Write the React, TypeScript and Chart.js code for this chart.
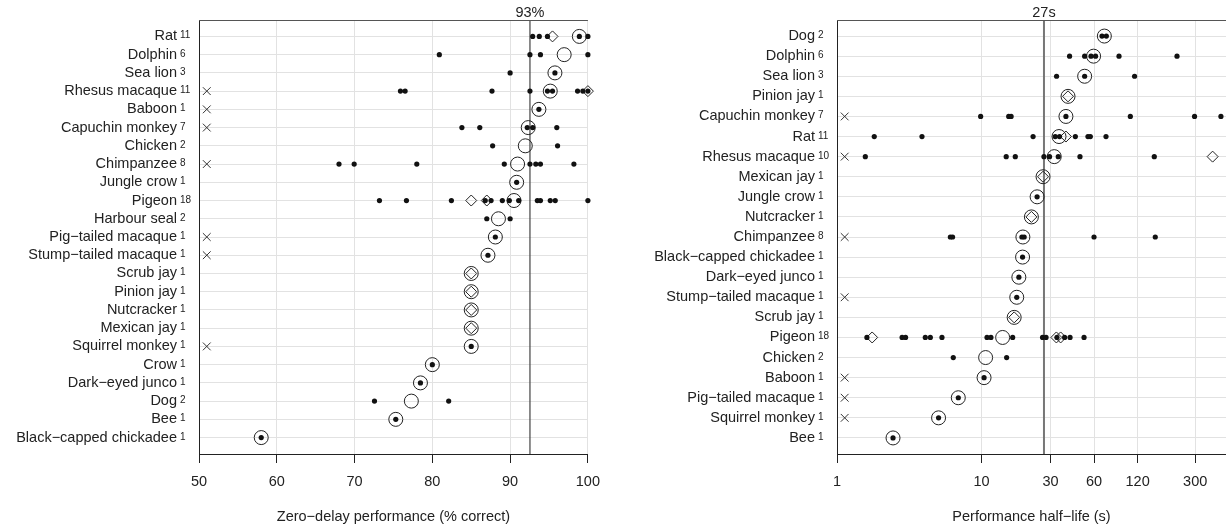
import React, { useEffect, useRef } from 'react';
import { Chart, registerables } from 'chart.js';

Chart.register(...registerables);

const FONT = '"Liberation Sans", Arial, Helvetica, sans-serif';

// ---------------- Left panel: zero-delay performance ----------------
const LEFT_SPECIES = [
  'Rat', 'Dolphin', 'Sea lion', 'Rhesus macaque', 'Baboon', 'Capuchin monkey', 'Chicken',
  'Chimpanzee', 'Jungle crow', 'Pigeon', 'Harbour seal', 'Pig\u2212tailed macaque',
  'Stump\u2212tailed macaque', 'Scrub jay', 'Pinion jay', 'Nutcracker', 'Mexican jay',
  'Squirrel monkey', 'Crow', 'Dark\u2212eyed junco', 'Dog', 'Bee', 'Black\u2212capped chickadee',
];
const LEFT_COUNTS = [11, 6, 3, 11, 1, 7, 2, 8, 1, 18, 2, 1, 1, 1, 1, 1, 1, 1, 1, 1, 2, 1, 1];
const LEFT_STUDIES: number[][] = [
  [92.9, 93.75, 94.8, 98.9, 100],
  [80.9, 92.55, 93.9, 100],
  [90.0, 95.76],
  [75.9, 76.5, 87.67, 92.55, 94.8, 95.45, 98.67, 99.35, 100],
  [93.7],
  [83.8, 86.1, 92.2, 92.9, 96.0],
  [87.75, 96.1],
  [68.0, 69.95, 78.0, 89.25, 92.55, 93.3, 93.9, 98.2],
  [90.84],
  [73.2, 76.67, 82.45, 86.8, 87.55, 89.0, 89.9, 91.1, 93.5, 93.9, 95.16, 95.8, 100],
  [87.0, 90.0],
  [88.1],
  [87.15],
  [],
  [],
  [],
  [],
  [85],
  [80],
  [78.47],
  [72.56, 82.1],
  [75.3],
  [58],
];
const LEFT_MEDIANS = [98.9, 96.95, 95.76, 95.16, 93.7, 92.33, 91.95, 90.96, 90.84, 90.5, 88.5,
  88.1, 87.15, 85, 85, 85, 85, 85, 80, 78.47, 77.3, 75.3, 58];
const LEFT_DIAMONDS: number[][] = [
  [95.45], [], [], [100], [], [], [], [], [], [85.0, 87.0], [], [], [],
  [85], [85], [85], [85], [], [], [], [], [], [],
];
const LEFT_CROSS_ROWS = ['Rhesus macaque', 'Baboon', 'Capuchin monkey', 'Chimpanzee',
  'Pig\u2212tailed macaque', 'Stump\u2212tailed macaque', 'Squirrel monkey'];
const LEFT_CROSS_X = 51;
const LEFT_REF = 92.55;
const LEFT_REF_LABEL = '93%';
const LEFT_TICKS = [50, 60, 70, 80, 90, 100];
const LEFT_TITLE = 'Zero\u2212delay performance (% correct)';

// ---------------- Right panel: performance half-life ----------------
const RIGHT_SPECIES = [
  'Dog', 'Dolphin', 'Sea lion', 'Pinion jay', 'Capuchin monkey', 'Rat', 'Rhesus macaque',
  'Mexican jay', 'Jungle crow', 'Nutcracker', 'Chimpanzee', 'Black\u2212capped chickadee',
  'Dark\u2212eyed junco', 'Stump\u2212tailed macaque', 'Scrub jay', 'Pigeon', 'Chicken', 'Baboon',
  'Pig\u2212tailed macaque', 'Squirrel monkey', 'Bee',
];
const RIGHT_COUNTS = [2, 6, 3, 1, 7, 11, 10, 1, 1, 1, 8, 1, 1, 1, 1, 18, 2, 1, 1, 1, 1];
const RIGHT_STUDIES: number[][] = [
  [68.0, 72.9],
  [40.6, 51.6, 57.1, 61.4, 89.2, 224.6],
  [33.0, 51.6, 114.3],
  [],
  [9.85, 15.4, 16.0, 38.3, 106.8, 297, 452],
  [1.81, 3.87, 22.7, 32.3, 34.6, 44.5, 54.4, 56.5, 72.5],
  [1.57, 14.8, 17.1, 27.0, 29.5, 33.9, 47.9, 156.4],
  [],
  [24.2],
  [],
  [6.08, 6.3, 19.0, 19.7, 59.9, 158.9],
  [19.2],
  [18.1],
  [17.5],
  [],
  [1.61, 2.82, 2.98, 4.08, 4.42, 5.32, 10.9, 11.6, 16.4, 26.4, 27.9, 33.2, 37.5, 40.9, 51.1],
  [6.37, 14.9],
  [10.4],
  [6.9],
  [5.04],
  [2.44],
];
const RIGHT_MEDIANS = [70.6, 59.5, 51.6, 39.6, 38.3, 34.3, 31.8, 26.6, 24.2, 22.1, 19.3, 19.2,
  18.1, 17.5, 16.8, 13.98, 10.66, 10.4, 6.9, 5.04, 2.44];
const RIGHT_DIAMONDS: number[][] = [
  [], [], [], [39.6], [], [38.3], [396], [26.6], [], [22.1], [], [], [], [], [16.8],
  [1.75, 32.9, 35.2], [], [], [], [], [],
];
const RIGHT_CROSS_ROWS = ['Capuchin monkey', 'Rhesus macaque', 'Chimpanzee',
  'Stump\u2212tailed macaque', 'Baboon', 'Pig\u2212tailed macaque', 'Squirrel monkey'];
const RIGHT_CROSS_X = 1.13;
const RIGHT_REF = 27;
const RIGHT_REF_LABEL = '27s';
const RIGHT_TICKS = [1, 10, 30, 60, 120, 300];
const RIGHT_TITLE = 'Performance half\u2212life (s)';

type Panel = {
  species: string[];
  counts: number[];
  studies: number[][];
  medians: number[];
  diamonds: number[][];
  crossRows: string[];
  crossX: number;
  ref: number;
  refLabel: string;
  refColor: string;
  refWidth: number;
  ticks: number[];
  title: string;
  xType: 'linear' | 'logarithmic';
  xMin: number;
  xMax: number;
  yMin: number;
  yMax: number;
  yWidth: number;
  padRight: number;
};

const rowLabelPlugin = {
  id: 'rowLabels',
  afterDraw(chart: any, _args: any, opts: any) {
    const { ctx, chartArea, scales } = chart;
    const ys = scales.y;
    const xs = scales.x;
    ctx.save();
    // top frame line
    ctx.strokeStyle = '#555';
    ctx.lineWidth = 1;
    ctx.beginPath();
    ctx.moveTo(chartArea.left, Math.round(chartArea.top) + 0.5);
    ctx.lineTo(chartArea.right, Math.round(chartArea.top) + 0.5);
    ctx.stroke();
    // row labels with superscript counts
    ctx.fillStyle = '#222';
    (opts.species as string[]).forEach((name, i) => {
      const py = ys.getPixelForValue(i);
      ctx.font = `14.5px ${FONT}`;
      ctx.textAlign = 'right';
      ctx.textBaseline = 'middle';
      ctx.fillText(name, chartArea.left - 22, py);
      ctx.font = `10px ${FONT}`;
      ctx.textAlign = 'left';
      ctx.textBaseline = 'alphabetic';
      ctx.fillText(String(opts.counts[i]), chartArea.left - 19, py + 2);
    });
    // reference label
    ctx.font = `14.5px ${FONT}`;
    ctx.textAlign = 'center';
    ctx.textBaseline = 'middle';
    ctx.fillText(opts.refLabel, xs.getPixelForValue(opts.ref), chartArea.top - 7);
    ctx.restore();
  },
};

function buildConfig(p: Panel): any {
  const dots: { x: number; y: number }[] = [];
  p.studies.forEach((vals, i) => vals.forEach((v) => dots.push({ x: v, y: i })));
  const meds = p.medians.map((v, i) => ({ x: v, y: i }));
  const dias: { x: number; y: number }[] = [];
  p.diamonds.forEach((vals, i) => vals.forEach((v) => dias.push({ x: v, y: i })));
  const crosses = p.crossRows.map((name) => ({ x: p.crossX, y: p.species.indexOf(name) }));
  const refLine = [
    { x: p.ref, y: p.yMin },
    { x: p.ref, y: p.yMax },
  ];
  const gridColor = '#e2e2e2';
  return {
    type: 'scatter',
    data: {
      datasets: [
        {
          label: 'Individual studies',
          data: dots,
          pointStyle: 'circle',
          pointRadius: 2.6,
          backgroundColor: '#111',
          borderColor: '#111',
          borderWidth: 0,
          order: 0,
          clip: false,
        },
        {
          label: 'Median',
          data: meds,
          pointStyle: 'circle',
          pointRadius: 7,
          backgroundColor: 'rgba(0,0,0,0)',
          borderColor: '#222',
          borderWidth: 1,
          order: 1,
          clip: false,
        },
        {
          label: 'Pooled estimate',
          data: dias,
          pointStyle: 'rectRot',
          pointRadius: 5.5,
          backgroundColor: 'rgba(0,0,0,0)',
          borderColor: '#222',
          borderWidth: 1,
          order: 2,
          clip: false,
        },
        {
          label: 'Not estimable',
          data: crosses,
          pointStyle: 'crossRot',
          pointRadius: 5.5,
          backgroundColor: 'rgba(0,0,0,0)',
          borderColor: '#333',
          borderWidth: 1,
          order: 3,
          clip: false,
        },
        {
          label: 'Overall',
          data: refLine,
          showLine: true,
          pointRadius: 0,
          borderColor: p.refColor,
          borderWidth: p.refWidth,
          order: 10,
        },
      ],
    },
    options: {
      responsive: false,
      animation: false,
      events: [],
      layout: { autoPadding: false, padding: { top: 20, right: p.padRight, left: 0, bottom: 0 } },
      plugins: {
        legend: { display: false },
        tooltip: { enabled: false },
        rowLabels: {
          species: p.species,
          counts: p.counts,
          ref: p.ref,
          refLabel: p.refLabel,
        },
      },
      scales: {
        x: {
          type: p.xType,
          min: p.xMin,
          max: p.xMax,
          afterBuildTicks: (s: any) => {
            s.ticks = p.ticks.map((v) => ({ value: v }));
          },
          afterFit: (s: any) => {
            s.height = 74;
          },
          ticks: {
            font: { family: FONT, size: 14.5 },
            color: '#222',
            padding: 10,
            maxRotation: 0,
            autoSkip: false,
            callback: (v: any) => String(v),
          },
          grid: { color: gridColor, lineWidth: 1, tickLength: 9, tickColor: '#222', drawTicks: true },
          border: { color: '#222', width: 1 },
          title: {
            display: true,
            text: p.title,
            font: { family: FONT, size: 14.5 },
            color: '#222',
            padding: { top: 0, bottom: 2 },
          },
        },
        y: {
          type: 'linear',
          reverse: true,
          min: p.yMin,
          max: p.yMax,
          afterBuildTicks: (s: any) => {
            s.ticks = p.species.map((_, i) => ({ value: i }));
          },
          afterFit: (s: any) => {
            s.width = p.yWidth;
          },
          ticks: { display: false },
          grid: { color: gridColor, lineWidth: 1, drawTicks: false },
          border: { color: '#222', width: 1 },
        },
      },
    },
    plugins: [rowLabelPlugin],
  };
}

const LEFT_PANEL: Panel = {
  species: LEFT_SPECIES,
  counts: LEFT_COUNTS,
  studies: LEFT_STUDIES,
  medians: LEFT_MEDIANS,
  diamonds: LEFT_DIAMONDS,
  crossRows: LEFT_CROSS_ROWS,
  crossX: LEFT_CROSS_X,
  ref: LEFT_REF,
  refLabel: LEFT_REF_LABEL,
  refColor: '#444',
  refWidth: 1.2,
  ticks: LEFT_TICKS,
  title: LEFT_TITLE,
  xType: 'linear',
  xMin: 50,
  xMax: 100,
  yMin: -0.9,
  yMax: 22.9,
  yWidth: 199,
  padRight: 21,
};

const RIGHT_PANEL: Panel = {
  species: RIGHT_SPECIES,
  counts: RIGHT_COUNTS,
  studies: RIGHT_STUDIES,
  medians: RIGHT_MEDIANS,
  diamonds: RIGHT_DIAMONDS,
  crossRows: RIGHT_CROSS_ROWS,
  crossX: RIGHT_CROSS_X,
  ref: RIGHT_REF,
  refLabel: RIGHT_REF_LABEL,
  refColor: '#777',
  refWidth: 2,
  ticks: RIGHT_TICKS,
  title: RIGHT_TITLE,
  xType: 'logarithmic',
  xMin: 1,
  xMax: 490,
  yMin: -0.8,
  yMax: 20.8,
  yWidth: 227,
  padRight: 0,
};

export default function App() {
  const leftRef = useRef<HTMLCanvasElement | null>(null);
  const rightRef = useRef<HTMLCanvasElement | null>(null);

  useEffect(() => {
    const charts: Chart[] = [];
    if (leftRef.current) charts.push(new Chart(leftRef.current, buildConfig(LEFT_PANEL)));
    if (rightRef.current) charts.push(new Chart(rightRef.current, buildConfig(RIGHT_PANEL)));
    return () => charts.forEach((c) => c.destroy());
  }, []);

  return (
    <div
      style={{
        position: 'fixed',
        left: 0,
        top: 0,
        width: 1226,
        height: 528,
        background: '#fff',
        overflow: 'hidden',
      }}
    >
      <canvas
        ref={leftRef}
        width={610}
        height={528}
        style={{ position: 'absolute', left: 0, top: 0, width: 610, height: 528 }}
      />
      <canvas
        ref={rightRef}
        width={616}
        height={528}
        style={{ position: 'absolute', left: 610, top: 0, width: 616, height: 528 }}
      />
    </div>
  );
}
